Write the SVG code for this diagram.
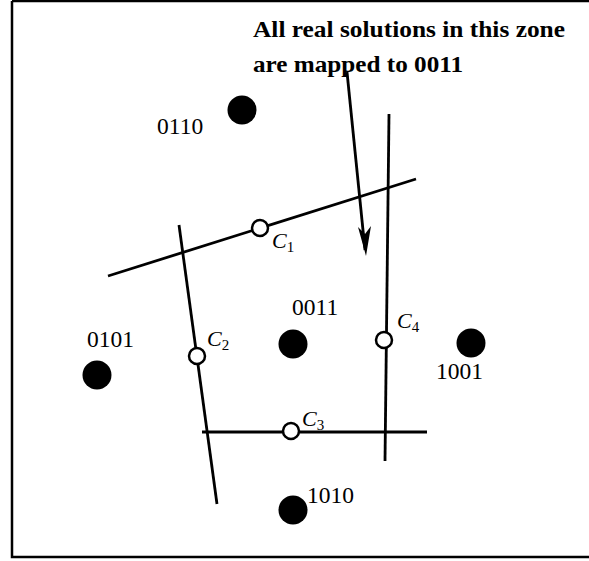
<svg xmlns="http://www.w3.org/2000/svg" width="589" height="561" viewBox="0 0 589 561">
<defs>
<style>
.ln{stroke:#000;stroke-width:2.8;fill:none;stroke-linecap:butt}
.c{stroke:#000;stroke-width:2.5;fill:#fff}
.dot{fill:#000}
.lbl{font-family:"Liberation Serif","DejaVu Serif",serif;font-size:23.5px;fill:#000}
.cl{font-family:"Liberation Serif","DejaVu Serif",serif;font-size:22px;font-style:italic;fill:#000}
.sub{font-size:15px;font-style:normal}
.note{font-family:"Liberation Serif","DejaVu Serif",serif;font-size:23px;font-weight:bold;fill:#000}
</style>
</defs>
<rect width="589" height="561" fill="#fff"/>
<path d="M12,1 L12,557 L589,557 M12,1 L589,1" stroke="#000" stroke-width="2.5" fill="none"/>
<g id="connectors">
<line class="ln" x1="108" y1="276" x2="416" y2="179"/>
<line class="ln" x1="179" y1="225" x2="217" y2="504"/>
<line class="ln" x1="389" y1="114" x2="385" y2="461"/>
<line class="ln" x1="202" y1="432" x2="427" y2="432"/>
<line class="ln" x1="347" y1="72" x2="365" y2="250" stroke-width="3"/>
<path d="M358,227 L366,256 L371,226 L365,234 Z" fill="#000"/>
</g>
<g id="C1"><circle class="c" cx="260" cy="228" r="8"/><text class="cl" x="272" y="248">C<tspan class="sub" dy="4">1</tspan></text></g>
<g id="C2"><circle class="c" cx="197" cy="356" r="8"/><text class="cl" x="207" y="346">C<tspan class="sub" dy="4">2</tspan></text></g>
<g id="C3"><circle class="c" cx="291" cy="431" r="8"/><text class="cl" x="302" y="426">C<tspan class="sub" dy="4">3</tspan></text></g>
<g id="C4"><circle class="c" cx="384" cy="340" r="8"/><text class="cl" x="397" y="328">C<tspan class="sub" dy="4">4</tspan></text></g>
<g id="n0110"><circle class="dot" cx="242" cy="110" r="14.5"/><text class="lbl" x="157" y="134">0110</text></g>
<g id="n0101"><circle class="dot" cx="97" cy="375" r="14.5"/><text class="lbl" x="87" y="347">0101</text></g>
<g id="n0011"><circle class="dot" cx="293" cy="344" r="14.5"/><text class="lbl" x="292" y="315">0011</text></g>
<g id="n1001"><circle class="dot" cx="471" cy="343" r="14.5"/><text class="lbl" x="436" y="379">1001</text></g>
<g id="n1010"><circle class="dot" cx="293" cy="510" r="14.5"/><text class="lbl" x="307" y="503">1010</text></g>
<g id="note">
<text class="note" x="253" y="37" textLength="312" lengthAdjust="spacingAndGlyphs">All real solutions in this zone</text>
<text class="note" x="253" y="72" textLength="210" lengthAdjust="spacingAndGlyphs">are mapped to 0011</text>
</g>
</svg>
